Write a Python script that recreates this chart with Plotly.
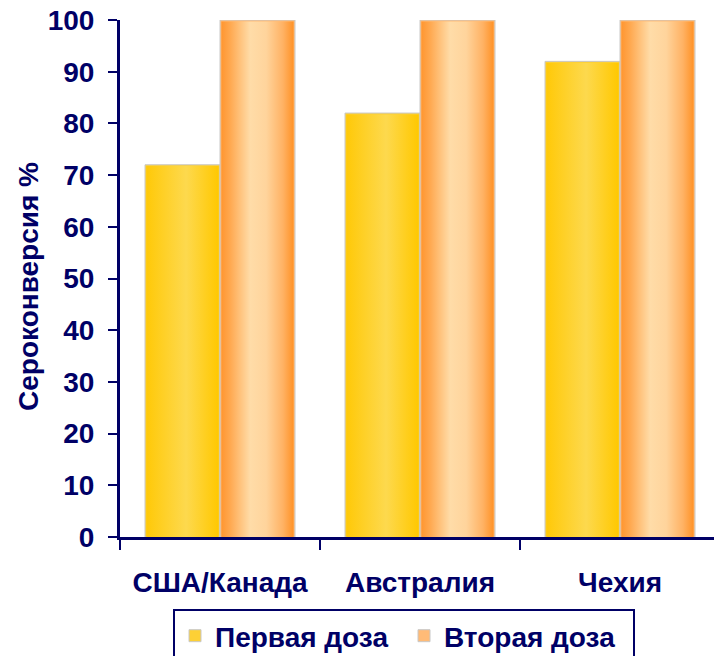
import base64
import plotly.graph_objects as go

# Seroconversion after first and second dose, by country
countries = ["США/Канада", "Австралия", "Чехия"]
first_dose = [72, 82, 92]
second_dose = [100, 100, 100]
series_names = ["Первая доза", "Вторая доза"]
y_title = "Сероконверсия %"

NAVY = "#000066"
FONT = "Liberation Sans, Arial, sans-serif"
FS = 28
BAR_W = 0.375


def gradient_uri(stops):
    """Horizontal cylinder-like gradient as an SVG data URI."""
    stop_tags = "".join(
        f'<stop offset="{o}" stop-color="{c}"/>' for o, c in stops
    )
    svg = (
        '<svg xmlns="http://www.w3.org/2000/svg" width="100" height="100" '
        'viewBox="0 0 100 100" preserveAspectRatio="none">'
        f'<defs><linearGradient id="g" x1="0" y1="0" x2="1" y2="0">{stop_tags}'
        '</linearGradient></defs>'
        '<rect x="0" y="0" width="100" height="100" fill="url(#g)"/></svg>'
    )
    return "data:image/svg+xml;base64," + base64.b64encode(svg.encode()).decode()


yellow_grad = gradient_uri([
    (0, "#FFC908"), (0.55, "#FDD94E"), (1, "#FFC800"),
])
orange_grad = gradient_uri([
    (0, "#FF9630"), (0.12, "#FFA84F"), (0.4, "#FFDCA8"),
    (0.62, "#FFD49C"), (0.85, "#FFB264"), (1, "#FF9226"),
])

fig = go.Figure()
fig.add_trace(go.Bar(
    x=countries, y=first_dose, name=series_names[0],
    width=BAR_W, offset=-BAR_W,
    marker=dict(color="#FDD035", line=dict(color="#C8C8C8", width=1)),
))
fig.add_trace(go.Bar(
    x=countries, y=second_dose, name=series_names[1],
    width=BAR_W, offset=0,
    marker=dict(color="#FFBB77", line=dict(color="#C8C8C8", width=1)),
))

# Shading overlays placed over each bar from the same values
dx = 0.006
dy = 0.25
images = []
for i, (v1, v2) in enumerate(zip(first_dose, second_dose)):
    for left, val, src in ((i - BAR_W, v1, yellow_grad), (i, v2, orange_grad)):
        images.append(dict(
            source=src, xref="x", yref="y",
            x=left + dx, y=val - dy,
            sizex=BAR_W - 2 * dx, sizey=val - dy,
            xanchor="left", yanchor="top",
            sizing="stretch", layer="above",
        ))

bold = dict(family=FONT, size=FS, color=NAVY, weight="bold")

fig.update_layout(
    width=714, height=656,
    margin=dict(l=120, r=0, t=20, b=119),
    paper_bgcolor="white", plot_bgcolor="white",
    barmode="group",
    images=images,
    font=dict(family=FONT, size=FS, color=NAVY),
    showlegend=True,
    legend=dict(
        orientation="h",
        xref="container", yref="container",
        x=173 / 714, xanchor="left",
        y=1 - 609 / 656, yanchor="top",
        bordercolor=NAVY, borderwidth=2,
        font=bold,
        traceorder="normal",
        itemwidth=30,
        entrywidth=184,
    ),
    xaxis=dict(
        range=[-0.5, 2.47],
        showline=True, linecolor=NAVY, linewidth=3,
        ticks="outside", tickson="boundaries", ticklen=10,
        tickwidth=2, tickcolor=NAVY,
        tickfont=bold,
        ticklabelstandoff=18,
        showgrid=False, zeroline=False,
    ),
    yaxis=dict(
        range=[0, 100], dtick=10,
        showline=True, linecolor=NAVY, linewidth=3,
        ticks="outside", ticklen=9, tickwidth=2, tickcolor=NAVY,
        tickfont=bold,
        ticklabelstandoff=8,
        showgrid=False, zeroline=False,
    ),
    annotations=[dict(
        text=y_title, font=bold, textangle=-90,
        xref="paper", yref="paper",
        x=(28 - 120) / 594, y=(537 - 287) / 517,
        xanchor="center", yanchor="middle",
        showarrow=False,
    )],
)

fig.write_html("out.html")
